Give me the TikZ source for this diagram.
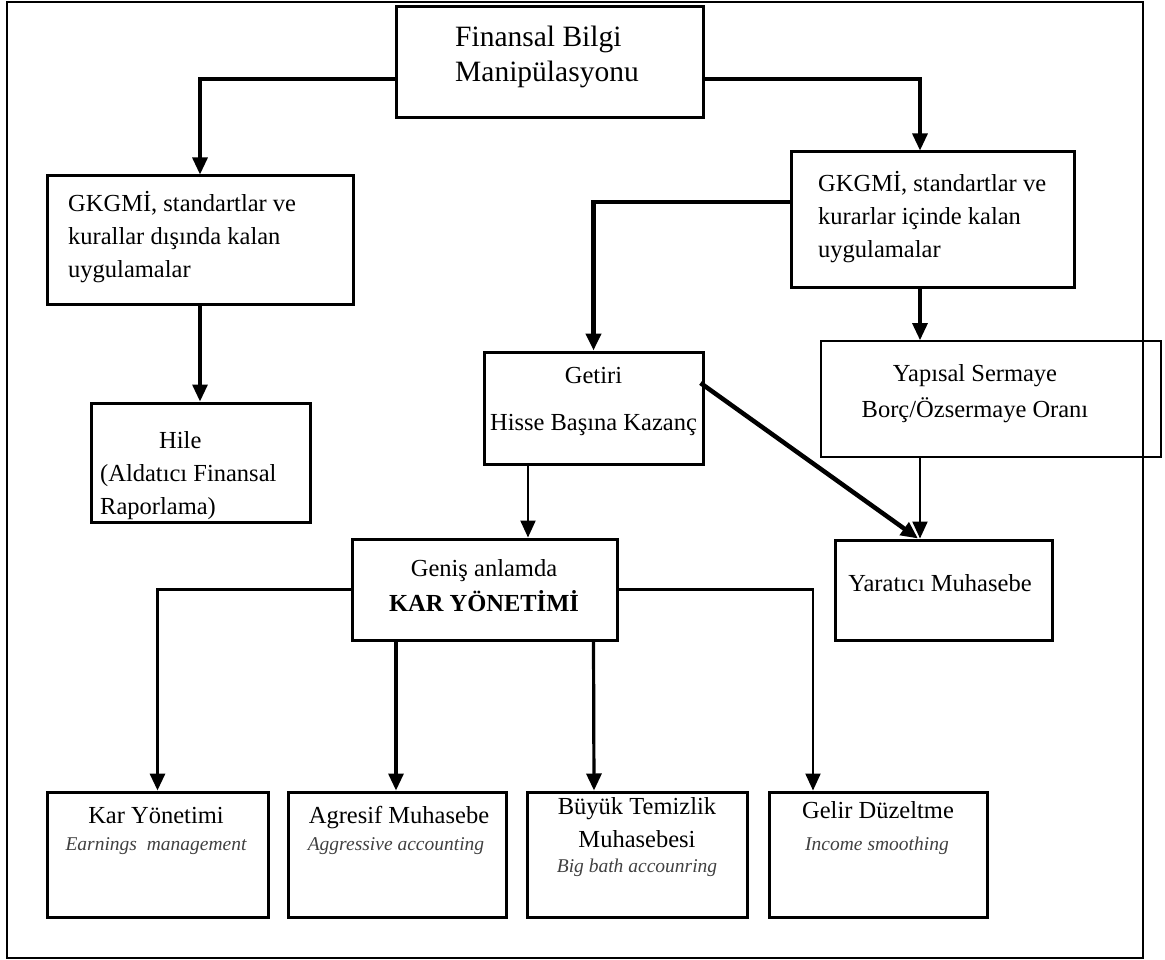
\documentclass[tikz,border=0pt]{standalone}
\usepackage{fontspec}
\setmainfont{Liberation Serif}
\usetikzlibrary{arrows.meta}

\tikzset{
  box/.style={draw, line width=3pt, inner sep=0pt},
  thinbox/.style={draw, line width=1.7pt, inner sep=0pt},
  txt/.style={font=\fontsize{24.5}{33}\selectfont, align=left, anchor=base west, inner sep=0pt},
  ctxt/.style={txt, align=center, anchor=base},
  eng/.style={font=\fontsize{19.5}{24}\selectfont\itshape, text=black!75, anchor=base, inner sep=0pt},
  conn/.style={line width=3.2pt},
  thinconn/.style={line width=2.2pt}
}

\begin{document}
\begin{tikzpicture}[x=1pt, y=-1pt, >={Triangle[length=17pt,width=15pt]}]
        \useasboundingbox (0,0) rectangle (1165,960);
        \draw[line width=2.5pt] (7,2) rectangle (1143,958);

        \node (A) at (549.5,62.5) [box, minimum width=307pt, minimum height=111pt] {};
        \node (B) at (200,240) [box, minimum width=306pt, minimum height=128pt] {};
        \node (C) at (932.5,219.5) [box, minimum width=283pt, minimum height=135pt] {};
        \node (D) at (200.5,462.5) [box, minimum width=219pt, minimum height=119pt] {};
        \node (E) at (593.5,408) [box, minimum width=219pt, minimum height=112pt] {};
        \node (F) at (991,399) [thinbox, minimum width=340pt, minimum height=116pt] {};
        \node (G) at (484.5,589.5) [box, minimum width=265pt, minimum height=101pt] {};
        \node (H) at (943.5,590) [box, minimum width=217pt, minimum height=100pt] {};
        \node (I) at (157.5,854.5) [box, minimum width=221pt, minimum height=125pt] {};
        \node (J) at (397,854.5) [box, minimum width=218pt, minimum height=125pt] {};
        \node (K) at (637,854.5) [box, minimum width=220pt, minimum height=125pt] {};
        \node (L) at (878,854.5) [box, minimum width=218pt, minimum height=125pt] {};

        \node (At) at (455,82) [txt, font=\fontsize{29.5}{35}\selectfont] {Finansal Bilgi\\Manipülasyonu};
        \node (Bt) at (68,277) [txt] {GKGMİ, standartlar ve\\kurallar dışında kalan\\uygulamalar};
        \node (Ct) at (818,258) [txt] {GKGMİ, standartlar ve\\kurarlar içinde kalan\\uygulamalar};
        \node (Dt) at (100,514) [txt] {\hspace*{59pt}Hile\\(Aldatıcı Finansal\\Raporlama)};
        \node (Et) at (593.5,430) [ctxt] {Getiri\\[14pt]Hisse Başına Kazanç};
        \node (Ft) at (975,417) [ctxt] {Yapısal Sermaye\\[3pt]Borç/Özsermaye Oranı};
        \node (Gt) at (484,611) [ctxt] {Geniş anlamda\\[2pt]\textbf{KAR YÖNETİMİ}};
        \node (Ht) at (940,591) [ctxt] {Yaratıcı Muhasebe};
        \node (It) at (156,823) [ctxt] {Kar Yönetimi};
        \node (Ie) at (156,850) [eng] {Earnings\ \ management};
        \node (Jt) at (399,823) [ctxt] {Agresif Muhasebe};
        \node (Je) at (396,850) [eng] {Aggressive accounting};
        \node (Kt) at (637,847) [ctxt] {Büyük Temizlik\\Muhasebesi};
        \node (Ke) at (637,872) [eng] {Big bath accounring};
        \node (Lt) at (878,818) [ctxt] {Gelir Düzeltme};
        \node (Le) at (877,850) [eng] {Income smoothing};

        \draw[->, conn] ([yshift=-16.5pt]A.west) -| (B.north);
        \draw[->, conn] ([yshift=-16.5pt]A.east) -| ([xshift=-12.5pt]C.north);
        \draw[->, conn] (B.south) -- (B.south |- D.north);
        \draw[->, line width=4.5pt] ([yshift=17.5pt]C.west) -| (E.north);
        \draw[->, conn] ([xshift=-12.5pt]C.south) -- ([xshift=-71pt]F.north);
        \draw[->, thinconn] ([xshift=-65.5pt]E.south) -- ([xshift=43.5pt]G.north);
        \draw[->, line width=4.5pt] ([xshift=-4pt,yshift=25pt]E.east) -- ([xshift=-25.5pt]H.north);
        \draw[->, thinconn] ([xshift=-71pt]F.south) -- ([xshift=-23.5pt]H.north);
        \draw[->, conn] (G.west) -| (I.north);
        \draw[->, conn] ([xshift=-88.5pt]G.south) -- ([xshift=-1pt]J.north);
        \draw[->, conn] ([xshift=109pt]G.south) -- ([xshift=-43pt]K.north);
        \draw[->, thinconn] (G.east) -| ([xshift=-65pt]L.north);

    \end{tikzpicture}
\end{document}
